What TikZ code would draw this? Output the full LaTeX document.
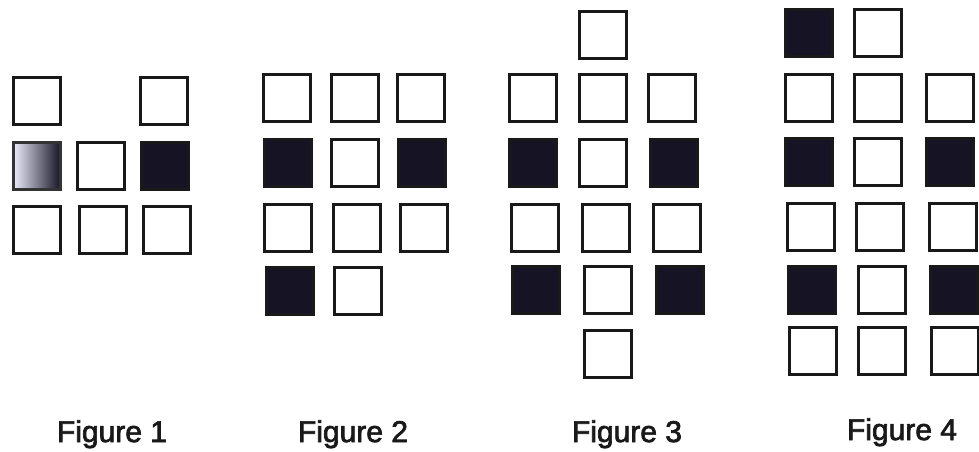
\documentclass[tikz,border=0pt]{standalone}
\usepackage{fontspec}
\setmainfont{Liberation Sans}
\newcommand{\thicktext}[1]{\special{pdf:literal direct 2 Tr 0.7 w}#1\special{pdf:literal direct 0 Tr 1 w}}
\definecolor{darkfill}{RGB}{22,20,36}
\begin{document}
\begin{tikzpicture}[x=1pt,y=-1pt,
  sq/.style={draw=black!90,line width=3.2pt,minimum size=47pt,inner sep=0pt,fill=white},
  dk/.style={sq,fill=darkfill},
  gr/.style={sq,draw=black!80,left color=black!20!blue!8!white,right color=darkfill,shading angle=90},
  lbl/.style={anchor=base,font=\fontsize{30}{30}\selectfont,text=black!90}]
\useasboundingbox[fill=white] (0,0) rectangle (979,451);
% Figure 1
\node[sq] (a1) at (37,101) {};
\node[sq] (a2) at (164,101) {};
\node[gr] (a3) at (37,166) {};
\node[sq] (a4) at (101,166) {};
\node[dk] (a5) at (165,166) {};
\node[sq] (a6) at (37,230) {};
\node[sq] (a7) at (103,230) {};
\node[sq] (a8) at (167,230) {};
\node[lbl] (la) at (112,442) {\thicktext{Figure 1}};
% Figure 2
\node[sq] (b1) at (287,98) {};
\node[sq] (b2) at (355,98) {};
\node[sq] (b3) at (421,98) {};
\node[dk] (b4) at (288,163) {};
\node[sq] (b5) at (355,163) {};
\node[dk] (b6) at (422,163) {};
\node[sq] (b7) at (288,228) {};
\node[sq] (b8) at (357,228) {};
\node[sq] (b9) at (424,228) {};
\node[dk] (b10) at (290,291) {};
\node[sq] (b11) at (358,291) {};
\node[lbl] (lb) at (353,442) {\thicktext{Figure 2}};
% Figure 3
\node[sq] (c0) at (603,35) {};
\node[sq] (c1) at (533,98) {};
\node[sq] (c2) at (603,98) {};
\node[sq] (c3) at (672,98) {};
\node[dk] (c4) at (533,163) {};
\node[sq] (c5) at (603,163) {};
\node[dk] (c6) at (674,163) {};
\node[sq] (c7) at (535,228) {};
\node[sq] (c8) at (606,228) {};
\node[sq] (c9) at (677,228) {};
\node[dk] (c10) at (536,290) {};
\node[sq] (c11) at (608,290) {};
\node[dk] (c12) at (680,290) {};
\node[sq] (c13) at (608,354) {};
\node[lbl] (lc) at (627,442) {\thicktext{Figure 3}};
% Figure 4
\node[dk] (d0) at (809,33) {};
\node[sq] (d1) at (878,33) {};
\node[sq] (d2) at (809,98) {};
\node[sq] (d3) at (878,98) {};
\node[sq] (d4) at (950,98) {};
\node[dk] (d5) at (809,162) {};
\node[sq] (d6) at (878,162) {};
\node[dk] (d7) at (950,162) {};
\node[sq] (d8) at (811,227) {};
\node[sq] (d9) at (880,227) {};
\node[sq] (d10) at (953,227) {};
\node[dk] (d11) at (812,290) {};
\node[sq] (d12) at (882,290) {};
\node[dk] (d13) at (954,290) {};
\node[sq] (d14) at (813,351) {};
\node[sq] (d15) at (882,351) {};
\node[sq] (d16) at (955,351) {};
\node[lbl] (ld) at (902,440) {\thicktext{Figure 4}};
\end{tikzpicture}
\end{document}
